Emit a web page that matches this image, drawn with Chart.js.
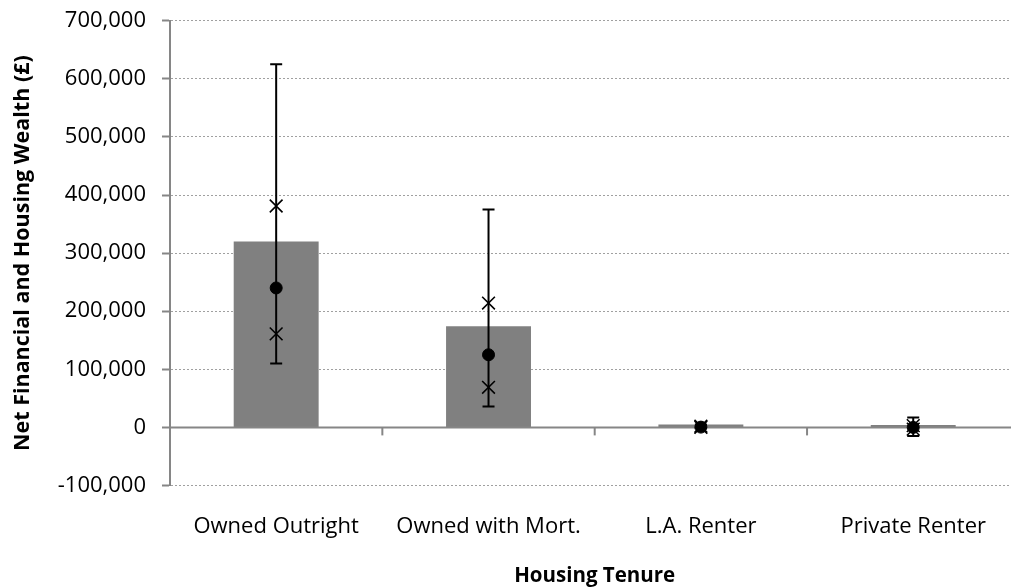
<!DOCTYPE html>
<html>
<head>
<meta charset="utf-8">
<script src="https://cdn.jsdelivr.net/npm/chart.js@4.4.1/dist/chart.umd.min.js"></script>
<style>
html,body{margin:0;padding:0;overflow:hidden;background:#fff;}
#wrap{width:1030px;height:587px;position:relative;}
</style>
</head>
<body>
<div id="wrap"><canvas id="c"></canvas></div>
<script>
const categories = ['Owned Outright', 'Owned with Mort.', 'L.A. Renter', 'Private Renter'];
const meanValues = [320000, 174000, 5000, 4000];
const p10Values = [110000, 36000, -1000, -15000];
const p25Values = [161000, 69000, 0, -3000];
const medianValues = [240000, 125000, 500, 0];
const p75Values = [381000, 214000, 2000, 3000];
const p90Values = [625000, 375000, 5000, 17000];
const yTicks = [-100000, 0, 100000, 200000, 300000, 400000, 500000, 600000, 700000];

const FONT = '"Open Sans", Lato, sans-serif';

const extras = {
  id: 'extras',
  afterDatasetDraw(chart, args) {
    if (args.index !== 0) return;
    const ctx = chart.ctx;
    const xs = chart.scales.x, ys = chart.scales.y;
    const area = chart.chartArea;
    ctx.save();
    const y0 = ys.getPixelForValue(0);
    ctx.strokeStyle = '#868686';
    ctx.lineWidth = 2;
    ctx.beginPath();
    ctx.moveTo(area.left, y0);
    ctx.lineTo(area.right, y0);
    ctx.stroke();
    const half = (xs.getPixelForValue(1) - xs.getPixelForValue(0)) / 2;
    for (let i = 0; i <= categories.length; i++) {
      const xp = xs.getPixelForValue(0) - half + i * 2 * half;
      ctx.beginPath();
      ctx.moveTo(xp, y0);
      ctx.lineTo(xp, y0 + 8);
      ctx.stroke();
    }
    ctx.strokeStyle = '#000';
    ctx.lineWidth = 2;
    for (let i = 0; i < categories.length; i++) {
      const xp = xs.getPixelForValue(i);
      const yt = ys.getPixelForValue(p90Values[i]);
      const yb = ys.getPixelForValue(p10Values[i]);
      ctx.beginPath();
      ctx.moveTo(xp, yt); ctx.lineTo(xp, yb);
      ctx.moveTo(xp - 6, yt); ctx.lineTo(xp + 6, yt);
      ctx.moveTo(xp - 6, yb); ctx.lineTo(xp + 6, yb);
      ctx.stroke();
    }
    ctx.restore();
  }
};

new Chart(document.getElementById('c'), {
  data: {
    labels: categories,
    datasets: [
      {
        type: 'bar',
        label: 'Mean',
        data: meanValues,
        backgroundColor: '#808080',
        borderWidth: 0,
        categoryPercentage: 1.0,
        barPercentage: 0.4,
        order: 10
      },
      {
        type: 'line',
        label: 'Median',
        data: medianValues,
        showLine: false,
        pointStyle: 'circle',
        pointRadius: 6,
        pointBackgroundColor: '#000',
        pointBorderColor: '#000',
        pointBorderWidth: 1,
        order: 1
      },
      {
        type: 'line',
        label: 'P25',
        data: p25Values,
        showLine: false,
        pointStyle: 'crossRot',
        pointRadius: 9,
        pointBorderColor: '#000',
        pointBorderWidth: 1.6,
        order: 2
      },
      {
        type: 'line',
        label: 'P75',
        data: p75Values,
        showLine: false,
        pointStyle: 'crossRot',
        pointRadius: 9,
        pointBorderColor: '#000',
        pointBorderWidth: 1.6,
        order: 3
      }
    ]
  },
  options: {
    responsive: true,
    maintainAspectRatio: false,
    animation: false,
    events: [],
    layout: { padding: { top: 0, right: 8, bottom: 0, left: 0 } },
    plugins: { legend: { display: false }, tooltip: { enabled: false } },
    scales: {
      x: {
        type: 'category',
        offset: true,
        grid: { display: false },
        border: { display: false },
        afterFit(axis) { axis.height = 101.5; },
        ticks: { color: '#000', font: { family: FONT, size: 22 }, padding: 20 },
        title: { display: true, text: 'Housing Tenure', color: '#000', font: { family: FONT, size: 20.5, weight: 'bold' }, padding: { top: 0, bottom: -1 } }
      },
      y: {
        min: -100000,
        max: 700000,
        afterBuildTicks(axis) { axis.ticks = yTicks.map(v => ({ value: v })); },
        afterFit(axis) { axis.width = 170; axis.paddingTop = 20.7; },
        grid: {
          color: '#a0a0a0',
          lineWidth: 1,
          drawTicks: true,
          tickLength: 8,
          tickColor: '#868686',
          tickWidth: 2,
          tickBorderDash: []
        },
        border: { display: true, color: '#868686', width: 2, dash: [2, 2] },
        ticks: {
          color: '#000',
          font: { family: FONT, size: 22 },
          padding: 16,
          callback: (v) => Number(v).toLocaleString('en-GB')
        },
        title: { display: true, text: 'Net Financial and Housing Wealth (£)', color: '#000', font: { family: FONT, size: 21.5, weight: 'bold' }, padding: { top: 10, bottom: 0 } }
      }
    }
  },
  plugins: [extras]
});
</script>
</body>
</html>
